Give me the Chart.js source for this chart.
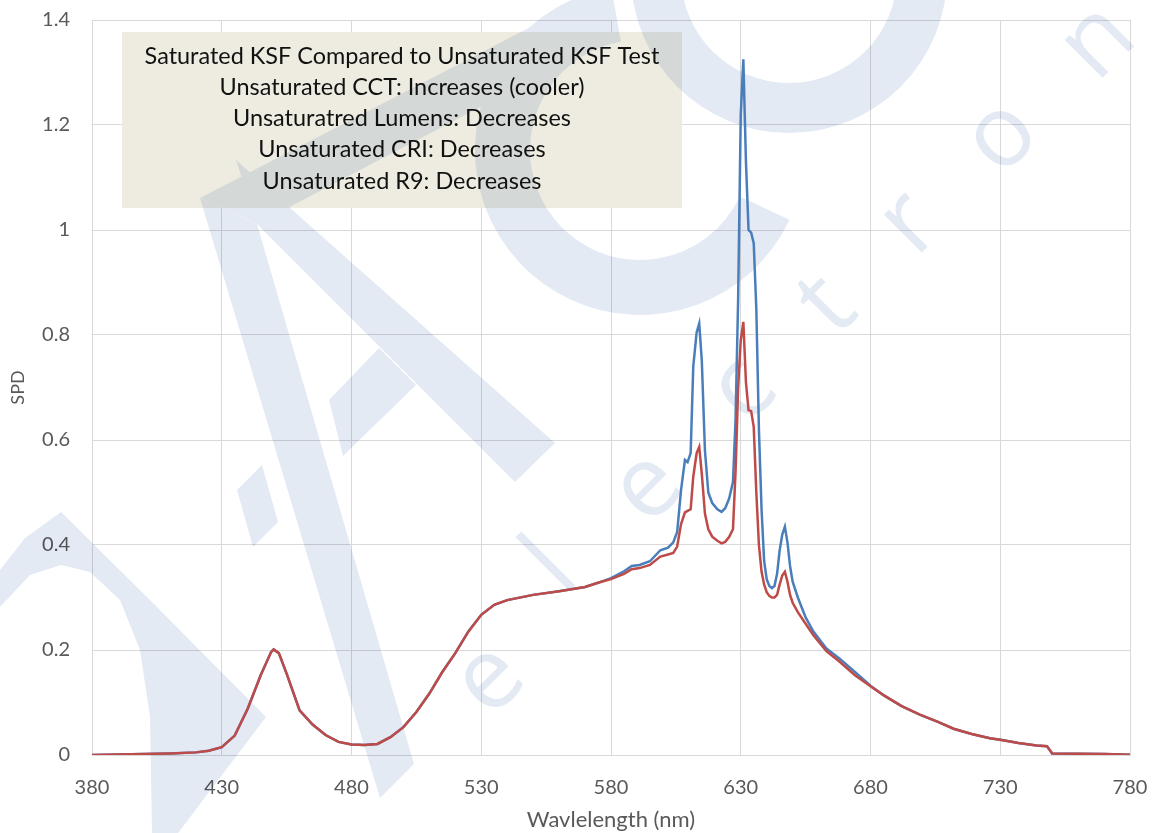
<!DOCTYPE html>
<html>
<head>
<meta charset="utf-8">
<script src="https://cdn.jsdelivr.net/npm/chart.js@4.4.1/dist/chart.umd.min.js"></script>
<style>
  html, body { margin: 0; padding: 0; background: #fff; }
  #wrap { width: 1156px; height: 833px; position: relative; }
</style>
</head>
<body>
<div id="wrap"><canvas id="spdChart"></canvas></div>
<script>
// wavelength samples (nm)
const wavelengths = [
  380, 390, 400, 410, 420, 425, 430, 435, 440, 445,
  449, 450, 452, 455, 460, 465, 470, 475, 480, 485,
  490, 495, 500, 505, 510, 515, 520, 525, 530, 535,
  540, 550, 560, 570, 575, 580, 585, 588, 591, 595,
  599, 602, 604, 605.5, 607, 608.5, 609.5, 610.7, 611.7, 613,
  614, 615, 616.2, 617.5, 619, 621, 622.6, 624, 625.5, 627,
  628, 629, 630, 631, 632, 633, 634, 635, 636, 637,
  638, 639, 640, 641, 642, 643, 644, 645, 646, 647,
  648, 649, 650, 652, 655, 658, 663, 668, 674, 680,
  685, 692, 699, 706, 712, 719, 726, 730, 737, 744,
  748, 749, 750, 760, 770, 780
];

// red curve
const saturatedKSF = [
  0, 0.001, 0.002, 0.003, 0.005, 0.008, 0.015, 0.037, 0.088, 0.152,
  0.196, 0.201, 0.194, 0.155, 0.085, 0.058, 0.038, 0.025, 0.020, 0.019,
  0.021, 0.034, 0.053, 0.082, 0.117, 0.158, 0.194, 0.235, 0.267, 0.286,
  0.295, 0.305, 0.312, 0.320, 0.328, 0.335, 0.345, 0.354, 0.356, 0.362,
  0.378, 0.382, 0.385, 0.397, 0.440, 0.462, 0.465, 0.468, 0.530, 0.575,
  0.587, 0.535, 0.460, 0.430, 0.416, 0.408, 0.403, 0.406, 0.415, 0.430,
  0.540, 0.700, 0.790, 0.825, 0.710, 0.657, 0.655, 0.625, 0.500, 0.400,
  0.350, 0.325, 0.310, 0.303, 0.300, 0.300, 0.305, 0.325, 0.342, 0.349,
  0.330, 0.305, 0.290, 0.272, 0.250, 0.228, 0.198, 0.178, 0.152, 0.131,
  0.114, 0.093, 0.077, 0.063, 0.050, 0.040, 0.032, 0.029, 0.023, 0.018,
  0.0166, 0.010, 0.003, 0.0025, 0.002, 0.0005
];

// blue curve
const unsaturatedKSF = [
  0, 0.001, 0.002, 0.003, 0.005, 0.008, 0.015, 0.037, 0.088, 0.152,
  0.196, 0.201, 0.194, 0.155, 0.085, 0.058, 0.038, 0.025, 0.020, 0.019,
  0.021, 0.034, 0.053, 0.082, 0.117, 0.158, 0.194, 0.235, 0.267, 0.286,
  0.295, 0.305, 0.312, 0.320, 0.328, 0.337, 0.350, 0.360, 0.362, 0.369,
  0.390, 0.395, 0.405, 0.425, 0.505, 0.562, 0.558, 0.575, 0.740, 0.805,
  0.822, 0.750, 0.580, 0.500, 0.480, 0.468, 0.463, 0.470, 0.488, 0.520,
  0.640, 0.870, 1.220, 1.325, 1.130, 1.000, 0.995, 0.975, 0.850, 0.620,
  0.470, 0.370, 0.335, 0.322, 0.318, 0.322, 0.345, 0.390, 0.420, 0.435,
  0.405, 0.360, 0.330, 0.300, 0.262, 0.235, 0.203, 0.184, 0.158, 0.132,
  0.114, 0.093, 0.077, 0.063, 0.050, 0.040, 0.032, 0.029, 0.023, 0.018,
  0.0166, 0.010, 0.003, 0.0025, 0.002, 0.0005
];

const xTicks = [380, 430, 480, 530, 580, 630, 680, 730, 780];
const yTicks = [0, 0.2, 0.4, 0.6, 0.8, 1, 1.2, 1.4];

const noteLines = [
  "Saturated KSF Compared to Unsaturated KSF Test",
  "Unsaturated CCT: Increases (cooler)",
  "Unsaturatred Lumens: Decreases",
  "Unsaturated CRI: Decreases",
  "Unsaturated R9: Decreases"
];

const toPoints = vals => wavelengths.map((w, i) => ({ x: w, y: vals[i] }));

// faint logo behind the plot
function drawWatermark(ctx) {
  const off = document.createElement('canvas');
  off.width = 1156;
  off.height = 833;
  const o = off.getContext('2d');
  o.fillStyle = '#E4EAF4';

  const shapes = [
    [[200, 198], [257, 224], [414, 764], [380, 798]],
    [[200, 198], [575, 4], [612, 38], [257, 224]],
    [[236, 160], [555, 443], [515, 482], [257, 224]],
    [[379, 348], [329, 400], [343, 456], [416, 385]],
    [[237, 490], [262, 465], [278, 522], [253, 547]],
    [[0, 570], [25, 538], [61, 512], [150, 600], [266, 717], [178, 833],
     [152, 833], [150, 717], [140, 650], [120, 600], [90, 572], [61, 565], [30, 575], [0, 607]]
  ];
  shapes.forEach(p => {
    o.beginPath();
    p.forEach(([x, y], i) => i ? o.lineTo(x, y) : o.moveTo(x, y));
    o.closePath();
    o.fill();
  });

  const ring = (cx, cy, R, r, a1, a2) => {
    o.beginPath();
    o.arc(cx, cy, R, a1, a2, false);
    o.arc(cx, cy, r, a2, a1, true);
    o.closePath();
    o.fill();
  };
  const deg = Math.PI / 180;
  ring(640, 150, 165, 110, 25 * deg, 260 * deg);
  ring(789, -25, 158, 108, 0, 2 * Math.PI);

  const letters = [["e", 490, 680], ["l", 552, 568], ["e", 648, 488], ["c", 743, 390],
                   ["t", 828, 306], ["r", 910, 224], ["o", 1002, 137], ["n", 1098, 42]];
  o.font = '100px "Open Sans"';
  o.textAlign = 'center';
  o.textBaseline = 'middle';
  letters.forEach(([ch, x, y]) => {
    o.save();
    o.translate(x, y);
    o.rotate(-45 * deg);
    o.fillText(ch, 0, 0);
    o.restore();
  });

  ctx.save();
  ctx.globalCompositeOperation = 'multiply';
  ctx.drawImage(off, 0, 0);
  ctx.restore();
}

const notesPlugin = {
  id: 'notes',
  beforeDatasetsDraw(chart) {
    const ctx = chart.ctx;
    ctx.save();
    ctx.fillStyle = '#EEECE1';
    ctx.fillRect(122, 32, 560, 176);

    // fit the first line to its width in the picture
    ctx.font = '22px Lato';
    const size = 22 * 515 / ctx.measureText(noteLines[0]).width;
    ctx.font = size.toFixed(2) + 'px Lato';
    ctx.fillStyle = '#111';
    ctx.textAlign = 'center';
    ctx.textBaseline = 'middle';
    noteLines.forEach((t, i) => ctx.fillText(t, 402, 56 + i * 31.3));
    ctx.restore();

    drawWatermark(ctx);
  }
};

const gridColor = '#D9D9D9';
const labelColor = '#595959';

new Chart(document.getElementById('spdChart'), {
  type: 'line',
  data: {
    datasets: [
      {
        label: 'Saturated KSF',
        data: toPoints(saturatedKSF),
        borderColor: '#BE4B48',
        borderWidth: 2.5,
        pointRadius: 0,
        tension: 0,
        fill: false
      },
      {
        label: 'Unsaturated KSF',
        data: toPoints(unsaturatedKSF),
        borderColor: '#4A7EBB',
        borderWidth: 2.5,
        pointRadius: 0,
        tension: 0,
        fill: false
      }
    ]
  },
  options: {
    responsive: true,
    maintainAspectRatio: false,
    animation: false,
    layout: { padding: { top: 20, right: 26, left: 0, bottom: 0 } },
    plugins: {
      legend: { display: false },
      tooltip: { enabled: false }
    },
    scales: {
      x: {
        type: 'linear',
        min: 380,
        max: 780,
        afterBuildTicks: s => { s.ticks = xTicks.map(v => ({ value: v })); },
        afterFit: s => { s.height = 78; s.paddingLeft = 0; s.paddingRight = 0; },
        grid: { color: gridColor, drawTicks: false },
        border: { color: gridColor },
        ticks: { color: labelColor, font: { family: 'Lato', size: 20 }, padding: 21, maxRotation: 0 },
        title: {
          display: true,
          text: 'Wavlelength (nm)',
          color: labelColor,
          font: { family: 'Lato', size: 22 },
          padding: { top: 0, bottom: 0 }
        }
      },
      y: {
        min: 0,
        max: 1.4,
        afterBuildTicks: s => { s.ticks = yTicks.map(v => ({ value: v })); },
        afterFit: s => { s.width = 92; s.paddingTop = 0; s.paddingBottom = 0; },
        grid: { color: gridColor, drawTicks: false },
        border: { color: gridColor },
        ticks: {
          color: labelColor,
          font: { family: 'Lato', size: 20 },
          padding: 22,
          callback: v => String(Math.round(v * 10) / 10)
        },
        title: {
          display: true,
          text: 'SPD',
          color: labelColor,
          font: { family: 'Lato', size: 18 },
          padding: { top: 7, bottom: 0 }
        }
      }
    }
  },
  plugins: [notesPlugin]
});
</script>
</body>
</html>
